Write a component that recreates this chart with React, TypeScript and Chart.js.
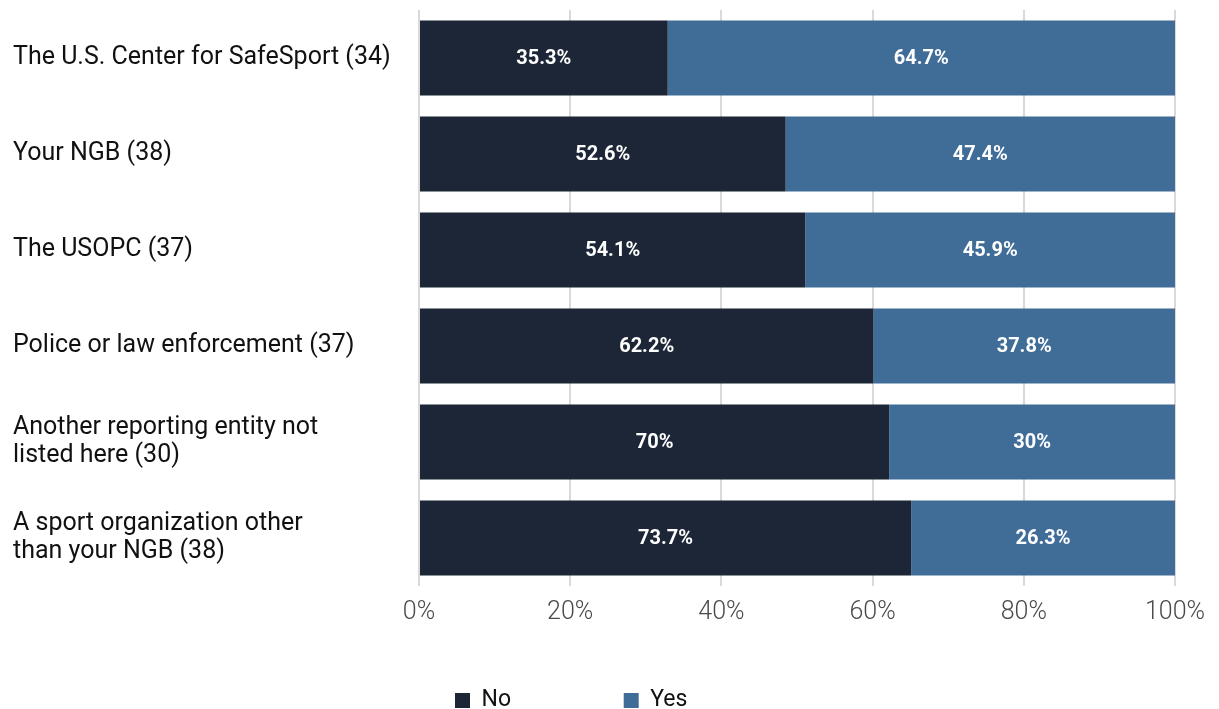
import React, { useEffect, useRef } from "react";
import { Chart, registerables } from "chart.js";

Chart.register(...registerables);

const categories: (string | string[])[] = [
  "The U.S. Center for SafeSport (34)",
  "Your NGB (38)",
  "The USOPC (37)",
  "Police or law enforcement (37)",
  ["Another reporting entity not", "listed here (30)"],
  ["A sport organization other", "than your NGB (38)"],
];

// bar lengths as drawn in the picture (percent of the axis)
const noValues = [32.9, 48.5, 51.1, 60.1, 62.2, 65.1];
const yesValues = [67.1, 51.5, 48.9, 39.9, 37.8, 34.9];

// value labels printed on the bars
const noLabels = ["35.3%", "52.6%", "54.1%", "62.2%", "70%", "73.7%"];
const yesLabels = ["64.7%", "47.4%", "45.9%", "37.8%", "30%", "26.3%"];

const xTicks = [0, 20, 40, 60, 80, 100];

const FONT = "Roboto, 'DejaVu Sans', sans-serif";

const barLabelPlugin = {
  id: "barLabels",
  afterDatasetsDraw(chart: any) {
    const ctx = chart.ctx;
    const sets = [noLabels, yesLabels];
    ctx.save();
    ctx.fillStyle = "#ffffff";
    ctx.font = `bold 20px ${FONT}`;
    ctx.textAlign = "center";
    ctx.textBaseline = "middle";
    chart.data.datasets.forEach((_ds: any, di: number) => {
      const meta = chart.getDatasetMeta(di);
      meta.data.forEach((el: any, i: number) => {
        const cx = (el.x + el.base) / 2;
        ctx.fillText(sets[di][i], cx, el.y + 1);
      });
    });
    ctx.restore();
  },
};

export default function App() {
  const ref = useRef<HTMLCanvasElement | null>(null);

  useEffect(() => {
    if (!ref.current) return;
    const chart = new Chart(ref.current, {
      type: "bar",
      data: {
        labels: categories,
        datasets: [
          {
            label: "No",
            data: noValues,
            backgroundColor: "#1c2637",
            barPercentage: 0.78,
            categoryPercentage: 1,
          },
          {
            label: "Yes",
            data: yesValues,
            backgroundColor: "#3f6d98",
            barPercentage: 0.78,
            categoryPercentage: 1,
          },
        ],
      },
      options: {
        indexAxis: "y",
        animation: false,
        responsive: true,
        maintainAspectRatio: false,
        layout: { padding: { left: 13, right: 44, top: 10, bottom: -13 } },
        scales: {
          x: {
            stacked: true,
            min: 0,
            max: 100,
            afterBuildTicks: (scale: any) => {
              scale.ticks = xTicks.map((v) => ({ value: v }));
            },
            afterFit: (scale: any) => {
              scale.height = 93;
              scale.paddingLeft = 0;
              scale.paddingRight = 0;
            },
            ticks: {
              callback: (v: any) => `${v}%`,
              color: "#4a4a4a",
              font: { family: FONT, size: 25, weight: "300" },
              padding: 12,
              maxRotation: 0,
            },
            grid: { color: "#d9d9d9", lineWidth: 2, drawTicks: false },
            border: { display: false },
          },
          y: {
            stacked: true,
            afterFit: (scale: any) => {
              scale.width = 406;
              scale.paddingTop = 0;
              scale.paddingBottom = 0;
            },
            ticks: {
              crossAlign: "far",
              color: "#111111",
              font: { family: FONT, size: 25, lineHeight: 1.12 },
            },
            grid: { display: false },
            border: { display: false },
          },
        },
        plugins: {
          legend: {
            position: "bottom",
            labels: {
              boxWidth: 15,
              boxHeight: 15,
              padding: 10,
              color: "#111111",
              font: { family: FONT, size: 23 },
              generateLabels: (chart: any) => {
                const items = Chart.defaults.plugins.legend.labels.generateLabels(chart);
                items.forEach((it: any, i: number) => {
                  it.text = i === 0 ? it.text + " ".repeat(18) : it.text + " ".repeat(8);
                });
                return items;
              },
            },
          },
          tooltip: { enabled: false },
        },
      },
      plugins: [barLabelPlugin],
    });
    return () => chart.destroy();
  }, []);

  return (
    <div style={{ position: "absolute", left: 0, top: 0, width: "1219px", height: "709px", background: "#fff" }}>
      <canvas ref={ref} />
    </div>
  );
}
